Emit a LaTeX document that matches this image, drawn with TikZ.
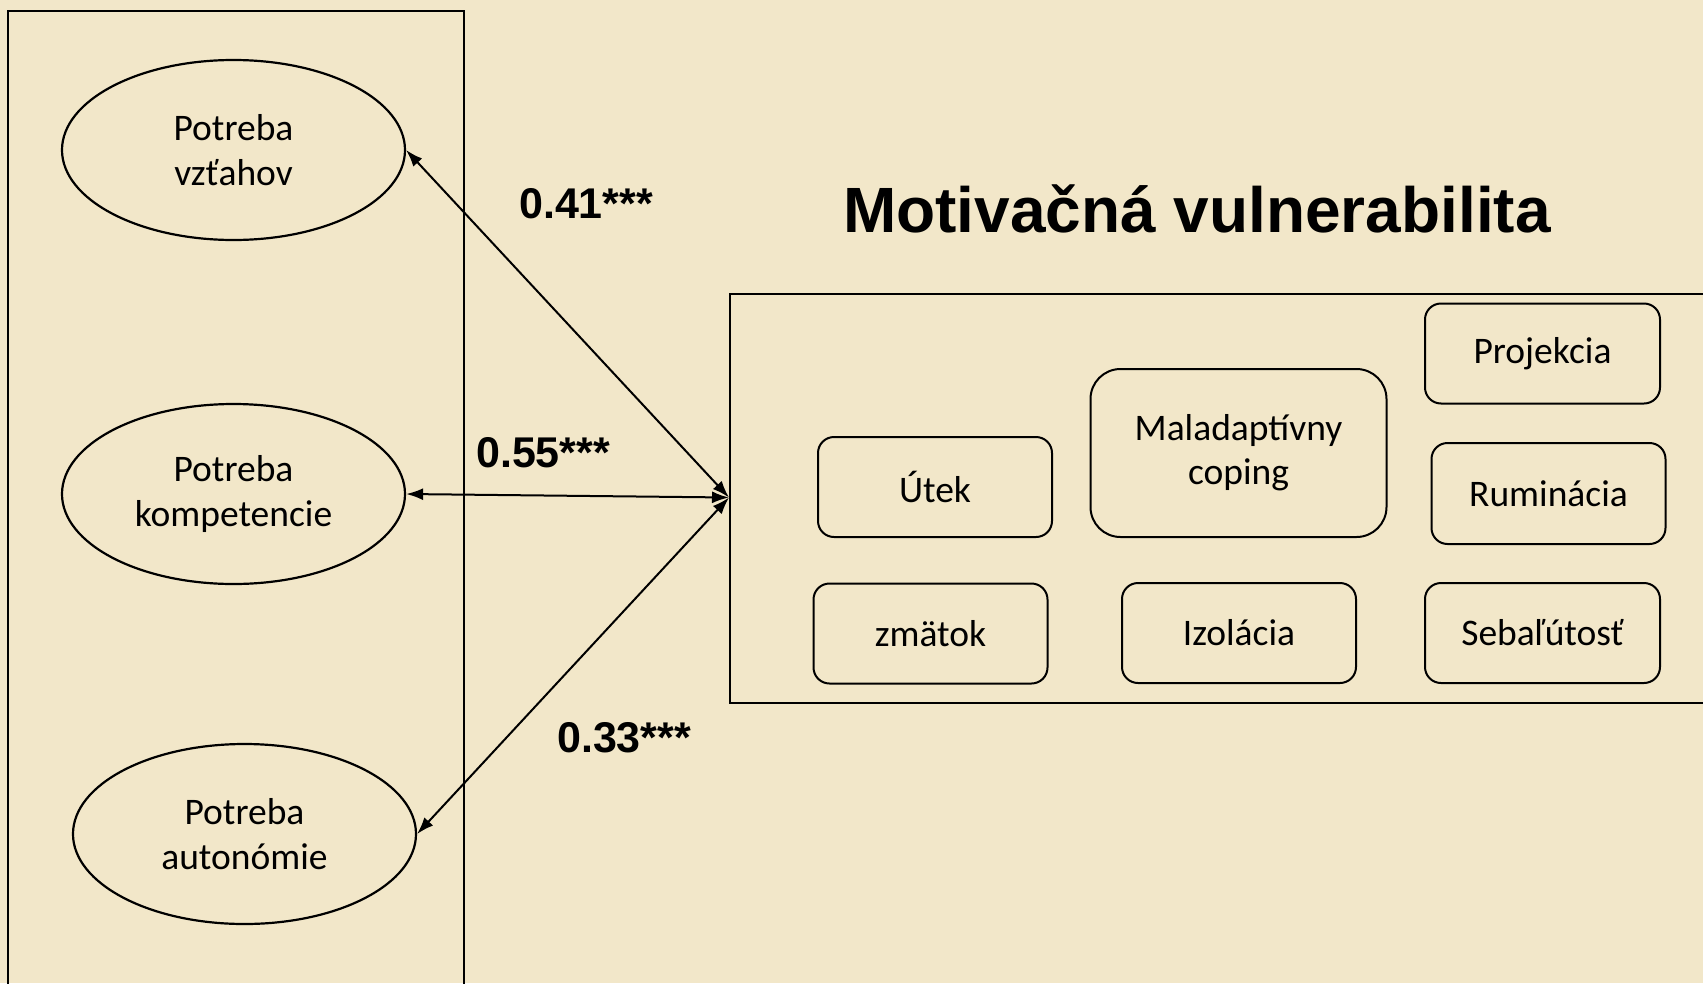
\documentclass[tikz,border=0pt]{standalone}
\usepackage{fontspec}
\setmainfont{Carlito}
\newfontfamily\arialfont{Liberation Sans}
\usetikzlibrary{shapes.geometric,arrows.meta}
\definecolor{bgbeige}{RGB}{242,231,201}
\tikzset{
  need/.style={ellipse, draw, line width=2.2pt, minimum width=343pt, minimum height=180pt, inner sep=0pt, align=center, font=\fontsize{37.5}{44.5}\selectfont},
  facet/.style={rectangle, rounded corners=16pt, draw, line width=2pt, inner sep=0pt, align=center, font=\fontsize{37.5}{44}\selectfont},
  coef/.style={anchor=west, inner sep=0pt, font=\arialfont\bfseries\fontsize{43}{50}\selectfont},
  link/.style={line width=2pt, {Latex[length=17pt,width=12pt]}-{Latex[length=17pt,width=12pt]}},
  frame/.style={draw, line width=2pt}
}
\begin{document}
\begin{tikzpicture}[x=1pt,y=-1pt]
\useasboundingbox (0,0) rectangle (1703,983);
\fill[bgbeige] (0,0) rectangle (1703,983);
\clip (0,0) rectangle (1703,983);
% frames
\draw[frame] (7.5,10.5) rectangle (463.5,1000);
\draw[frame] (730,294) rectangle (1720,703);
% title
\node[font=\arialfont\bfseries\fontsize{64}{70}\selectfont, inner sep=0pt] (title) at (1197,209) {Motivačná vulnerabilita};
% needs
\node[need] (e1) at (233.5,150) {Potreba\\vzťahov};
\node[need] (e2) at (233.5,494) {Potreba\\kompetencie};
\node[need] (e3) at (244.5,834) {Potreba\\autonómie};
% facets
\node[facet, minimum width=234pt, minimum height=100pt] (utek) at (935,487) {Útek};
\node[facet, minimum width=296pt, minimum height=168pt, rounded corners=30pt] (malad) at (1238.5,453) {Maladaptívny\\coping};
\node[facet, minimum width=235pt, minimum height=100pt] (proj) at (1542.5,353.5) {Projekcia};
\node[facet, minimum width=234pt, minimum height=101pt] (rumi) at (1548.5,493.5) {Ruminácia};
\node[facet, minimum width=234pt, minimum height=100pt] (zmat) at (930.5,633.5) {zmätok};
\node[facet, minimum width=234pt, minimum height=100pt] (izol) at (1239,633) {Izolácia};
\node[facet, minimum width=235pt, minimum height=100pt] (seba) at (1542.5,633) {Sebaľútosť};
% links
\coordinate (hub) at (729,497.5);
\draw[link] (e1.east) -- (hub);
\draw[link] (e2.east) -- (hub);
\draw[link] (e3.east) -- (hub);
% coefficients
\node[coef] (c1) at (519,204) {0.41***};
\node[coef] (c2) at (476,453) {0.55***};
\node[coef] (c3) at (557,737.5) {0.33***};
\end{tikzpicture}
\end{document}
